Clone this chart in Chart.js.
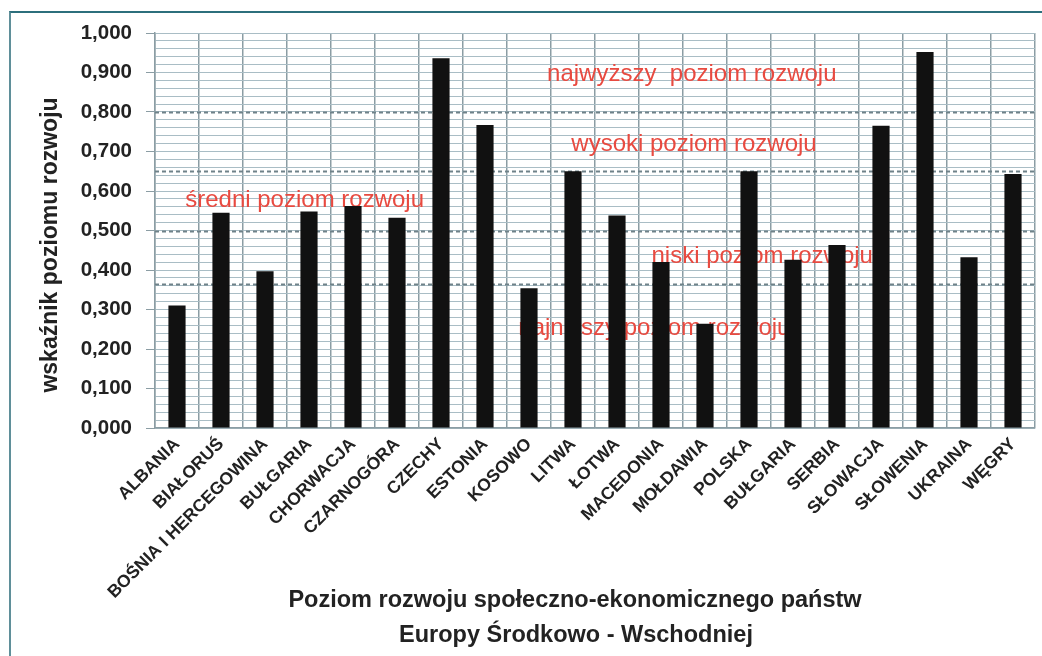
<!DOCTYPE html>
<html lang="pl">
<head>
    <meta charset="UTF-8">
    <title>Poziom rozwoju społeczno-ekonomicznego państw</title>
    <style>
        body {
            margin: 0;
            padding: 0;
            background-color: #fff;
        }
        .wrap {
            position: relative;
            width: 1042px;
            height: 656px;
            overflow: hidden;
        }
        /* cienka ramka jak na skanie */
        .frame {
            position: absolute;
            left: 9px;
            top: 11px;
            right: -10px;
            bottom: -10px;
            border-top: 2px solid #2c6f7c;
            border-left: 2px solid #5f8f99;
            pointer-events: none;
        }
        canvas {
            position: absolute;
            left: 0;
            top: 0;
        }
    </style>
</head>
<body>
    <div class="wrap">
        <canvas id="myChart" width="1042" height="656"></canvas>
        <div class="frame"></div>
    </div>

    <script src="https://cdn.jsdelivr.net/npm/chart.js"></script>
    <script>
        // dane
        var countries = ['ALBANIA', 'BIAŁORUŚ', 'BOŚNIA I HERCEGOWINA', 'BUŁGARIA', 'CHORWACJA',
            'CZARNOGÓRA', 'CZECHY', 'ESTONIA', 'KOSOWO', 'LITWA', 'ŁOTWA', 'MACEDONIA',
            'MOŁDAWIA', 'POLSKA', 'BUŁGARIA', 'SERBIA', 'SŁOWACJA', 'SŁOWENIA', 'UKRAINA', 'WĘGRY'];
        var values = [0.310, 0.545, 0.397, 0.548, 0.562, 0.532, 0.936, 0.767, 0.354, 0.650,
            0.538, 0.420, 0.264, 0.650, 0.426, 0.463, 0.765, 0.952, 0.432, 0.643];

        // progi poziomów rozwoju (linie przerywane)
        var levels = [0.365, 0.500, 0.650, 0.800];

        // opisy poziomów: tekst, pozycja (indeks kategorii, wartość)
        var noteText = ['najwyższy  poziom rozwoju', 'wysoki poziom rozwoju', 'średni poziom rozwoju',
            'niski poziom rozwoju', 'najniższy poziom rozwoju'];
        var noteIndex = [11.7, 11.75, 2.9, 13.3, 10.85];
        var noteValue = [0.894, 0.717, 0.577, 0.435, 0.253];

        var yTitle = 'wskaźnik poziomu rozwoju';
        var xTitle = ['Poziom rozwoju społeczno-ekonomicznego państw', 'Europy Środkowo - Wschodniej'];

        var FONT = "Arial, 'Liberation Sans', sans-serif";
        Chart.defaults.font.family = FONT;

        function isMajor(v) {
            return Math.abs(v * 10 - Math.round(v * 10)) < 1e-6;
        }

        var levelsPlugin = {
            id: 'levels',
            beforeDatasetsDraw: function(chart) {
                var ctx = chart.ctx;
                var area = chart.chartArea;
                var x = chart.scales.x, y = chart.scales.y;
                ctx.save();
                ctx.strokeStyle = '#6f8289';
                ctx.lineWidth = 2;
                ctx.setLineDash([4, 3]);
                levels.forEach(function(v) {
                    var py = Math.round(y.getPixelForValue(v)) + 0.5;
                    ctx.beginPath();
                    ctx.moveTo(area.left, py);
                    ctx.lineTo(area.right, py);
                    ctx.stroke();
                });
                ctx.setLineDash([]);
                ctx.fillStyle = '#e84a40';
                ctx.font = '24px ' + FONT;
                ctx.textAlign = 'center';
                ctx.textBaseline = 'middle';
                noteText.forEach(function(t, i) {
                    ctx.fillText(t, x.getPixelForValue(noteIndex[i]), y.getPixelForValue(noteValue[i]));
                });
                ctx.restore();
            },
            afterDraw: function(chart) {
                var ctx = chart.ctx;
                ctx.save();
                ctx.fillStyle = '#222';
                ctx.textAlign = 'center';
                ctx.textBaseline = 'alphabetic';
                ctx.font = 'bold 23.5px ' + FONT;
                ctx.fillText(xTitle[0], 575, 607);
                ctx.fillText(xTitle[1], 576, 642);
                ctx.font = 'bold 23px ' + FONT;
                ctx.translate(57, 245);
                ctx.rotate(-Math.PI / 2);
                ctx.fillText(yTitle, 0, 0);
                ctx.restore();
            }
        };

        var ctx = document.getElementById('myChart').getContext('2d');
        new Chart(ctx, {
            type: 'bar',
            data: {
                labels: countries,
                datasets: [{
                    data: values,
                    backgroundColor: '#111',
                    barPercentage: 0.39,
                    categoryPercentage: 1
                }]
            },
            options: {
                responsive: false,
                animation: false,
                layout: {
                    padding: { top: 33, right: 7, left: 0, bottom: 0 }
                },
                plugins: {
                    legend: { display: false },
                    tooltip: { enabled: false }
                },
                scales: {
                    x: {
                        grid: {
                            offset: true,
                            color: '#8b9da4',
                            lineWidth: 1.5,
                            drawTicks: false
                        },
                        border: { color: '#8b9da4', width: 1.5 },
                        ticks: {
                            autoSkip: false,
                            maxRotation: 45,
                            minRotation: 45,
                            padding: 6,
                            color: '#222',
                            font: { size: 17.5, weight: 'bold' }
                        },
                        afterFit: function(scale) {
                            scale.height = 228;
                        }
                    },
                    y: {
                        min: 0,
                        max: 1,
                        ticks: {
                            stepSize: 0.02,
                            autoSkip: false,
                            padding: 14,
                            color: '#222',
                            font: { size: 20.5, weight: 'bold' },
                            callback: function(v) {
                                return isMajor(v) ? v.toFixed(3).replace('.', ',') : '';
                            }
                        },
                        grid: {
                            color: '#a9bdc5',
                            lineWidth: 1,
                            tickLength: 9,
                            tickColor: function(c) {
                                return c.tick && isMajor(c.tick.value) ? '#8b9da4' : 'rgba(0,0,0,0)';
                            }
                        },
                        border: { color: '#8b9da4', width: 1.5 },
                        afterFit: function(scale) {
                            scale.width = 155;
                        }
                    }
                }
            },
            plugins: [levelsPlugin]
        });
    </script>
</body>
</html>
